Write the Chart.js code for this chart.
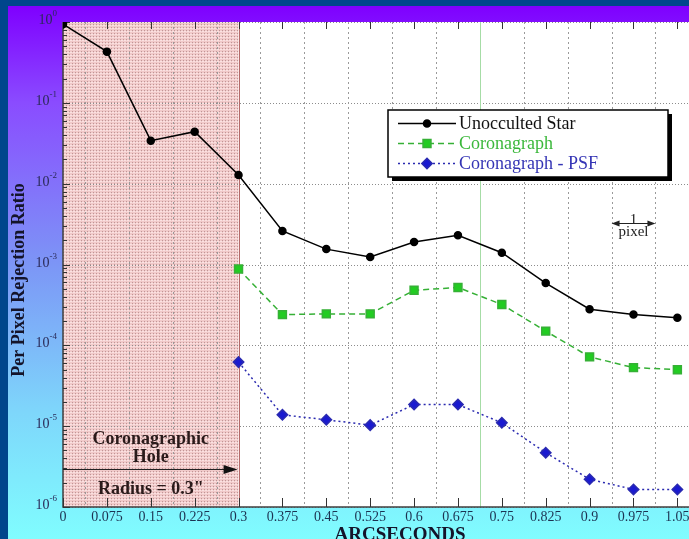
<!DOCTYPE html>
<html>
<head>
<meta charset="utf-8">
<script src="https://cdn.jsdelivr.net/npm/chart.js@4.4.1/dist/chart.umd.min.js"></script>
<style>
html, body { margin: 0; padding: 0; width: 689px; height: 539px; overflow: hidden; background: #00468c; }
#bg { position: absolute; left: 8px; top: 6px; width: 700px; height: 540px;
  background: linear-gradient(#7f00ff 0%, #8a4cff 18%, #7c96f6 48%, #7ed6fb 75%, #80ffff 100%); }
#wrap { position: absolute; left: 0; top: 0; width: 700px; height: 539px; }
</style>
</head>
<body>
<div id="bg"></div>
<div id="wrap"><canvas id="chart" width="700" height="539"></canvas></div>
<script>
// arcseconds from the star centre
var arcsec = [0, 0.075, 0.15, 0.225, 0.3, 0.375, 0.45, 0.525, 0.6, 0.675, 0.75, 0.825, 0.9, 0.975, 1.05];
// per pixel rejection ratio
var unocculted = [0.94, 0.43, 0.034, 0.044, 0.0128, 0.0026, 0.00155, 0.00124, 0.0019, 0.0023, 0.0014, 0.00059, 0.00028, 0.00024, 0.00022];
var coronagraph = [null, null, null, null, 8.8e-4, 2.4e-4, 2.45e-4, 2.45e-4, 4.8e-4, 5.2e-4, 3.2e-4, 1.5e-4, 7.2e-5, 5.3e-5, 5.0e-5];
var coronaPsf = [null, null, null, null, 6.2e-5, 1.38e-5, 1.2e-5, 1.03e-5, 1.85e-5, 1.85e-5, 1.1e-5, 4.7e-6, 2.2e-6, 1.65e-6, 1.65e-6];
var yTicks = [1, 1e-1, 1e-2, 1e-3, 1e-4, 1e-5, 1e-6];
var seriesNames = ["Unocculted Star", "Coronagraph", "Coronagraph - PSF"];
var holeRadius = 0.3;

var SERIF = "'Liberation Serif', 'DejaVu Serif', serif";

function points(vals) {
  var out = [];
  for (var i = 0; i < arcsec.length; i++) {
    if (vals[i] != null) out.push({ x: arcsec[i], y: vals[i] });
  }
  return out;
}

//dotted pink fill for the coronagraphic hole
function makeHatch() {
  var c = document.createElement("canvas");
  c.width = 3; c.height = 3;
  var g = c.getContext("2d");
  g.fillStyle = "#f1caca"; g.fillRect(0, 0, 3, 3);
  g.fillStyle = "#bf9696"; g.fillRect(0, 0, 1, 1);
  g.fillStyle = "#fae2e2"; g.fillRect(1, 1, 2, 1);
  return document.getElementById("chart").getContext("2d").createPattern(c, "repeat");
}
var hatch = makeHatch();

function arrowHead(ctx, x, y, dir, len, half) {
  ctx.beginPath();
  ctx.moveTo(x, y);
  ctx.lineTo(x - dir * len, y - half);
  ctx.lineTo(x - dir * len, y + half);
  ctx.closePath();
  ctx.fill();
}

var decor = {
  id: "decor",
  beforeDraw: function(chart) {
    var ctx = chart.ctx, a = chart.chartArea, xs = chart.scales.x;
    ctx.save();
    ctx.fillStyle = "#fff";
    ctx.fillRect(a.left, a.top, a.right - a.left, a.bottom - a.top);
    var hx = xs.getPixelForValue(holeRadius);
    ctx.fillStyle = hatch;
    ctx.fillRect(a.left, a.top, hx - a.left, a.bottom - a.top);
    ctx.restore();
  },
  beforeDatasetsDraw: function(chart) {
    var ctx = chart.ctx, a = chart.chartArea, xs = chart.scales.x, ys = chart.scales.y;
    ctx.save();
    ctx.lineWidth = 1;
    //horizontal grid at decades
    ctx.strokeStyle = "#8c8c8c";
    ctx.setLineDash([1, 2]);
    yTicks.forEach(function(v) {
      var py = Math.round(ys.getPixelForValue(v)) + 0.5;
      ctx.beginPath(); ctx.moveTo(a.left, py); ctx.lineTo(a.right, py); ctx.stroke();
    });
    //vertical grid half way between the ticks (pixel edges)
    ctx.setLineDash([2, 3]);
    for (var i = 0; i < arcsec.length; i++) {
      var gv = arcsec[i] + 0.0375;
      var px = Math.round(xs.getPixelForValue(gv)) + 0.5;
      ctx.strokeStyle = (i == 9) ? "#a6dca6" : "#9a9a9a";
      if (i == 9) ctx.setLineDash([]);
      ctx.beginPath(); ctx.moveTo(px, a.top); ctx.lineTo(px, a.bottom); ctx.stroke();
      if (i == 9) ctx.setLineDash([2, 3]);
    }
    ctx.setLineDash([]);
    //edge of the hole
    var hx = Math.round(xs.getPixelForValue(holeRadius)) + 0.5;
    ctx.strokeStyle = "#b46a6a";
    ctx.beginPath(); ctx.moveTo(hx, a.top); ctx.lineTo(hx, a.bottom); ctx.stroke();
    //axis lines
    ctx.strokeStyle = "#404040";
    ctx.lineWidth = 1.5;
    ctx.beginPath(); ctx.moveTo(a.left, a.top); ctx.lineTo(a.left, a.bottom); ctx.lineTo(a.right, a.bottom); ctx.stroke();
    //inward tick marks
    ctx.lineWidth = 1;
    ctx.strokeStyle = "#333";
    arcsec.forEach(function(v) {
      var px = Math.round(xs.getPixelForValue(v)) + 0.5;
      ctx.beginPath(); ctx.moveTo(px, a.bottom); ctx.lineTo(px, a.bottom - 9); ctx.stroke();
      ctx.beginPath(); ctx.moveTo(px, a.top); ctx.lineTo(px, a.top + 7); ctx.stroke();
    });
    for (var k = -6; k <= 0; k++) {
      var py = Math.round(ys.getPixelForValue(Math.pow(10, k))) + 0.5;
      ctx.beginPath(); ctx.moveTo(a.left, py); ctx.lineTo(a.left + 7, py); ctx.stroke();
      if (k == 0) continue;
      for (var m = 2; m <= 9; m++) {
        var my = Math.round(ys.getPixelForValue(m * Math.pow(10, k))) + 0.5;
        ctx.beginPath(); ctx.moveTo(a.left, my); ctx.lineTo(a.left + 4, my); ctx.stroke();
      }
    }
    ctx.restore();
  },
  afterDatasetsDraw: function(chart) {
    var ctx = chart.ctx, a = chart.chartArea, xs = chart.scales.x, ys = chart.scales.y;
    ctx.save();

    //y tick labels 10^n
    ctx.fillStyle = "#2a2a58";
    ctx.textBaseline = "alphabetic";
    yTicks.forEach(function(v) {
      var py = ys.getPixelForValue(v);
      var ex = String(Math.round(Math.log10(v)));
      ctx.font = "9px " + SERIF;
      var ew = ctx.measureText(ex).width;
      ctx.textAlign = "left";
      ctx.fillText(ex, 57 - ew, py - 6);
      ctx.font = "14px " + SERIF;
      ctx.textAlign = "right";
      ctx.fillText("10", 57 - ew, py + 2);
    });

    //axis titles
    ctx.fillStyle = "#14142a";
    ctx.font = "bold 18px " + SERIF;
    ctx.textAlign = "center";
    ctx.textBaseline = "middle";
    ctx.save();
    ctx.translate(19, 280);
    ctx.rotate(-Math.PI / 2);
    ctx.fillText("Per Pixel Rejection Ratio", 0, 0);
    ctx.restore();
    ctx.font = "bold 19px " + SERIF;
    ctx.textBaseline = "top";
    ctx.fillText("ARCSECONDS", 400, 526);

    //hole annotation
    var cx = xs.getPixelForValue(holeRadius / 2);
    ctx.fillStyle = "#2a1a1a";
    ctx.font = "bold 18px " + SERIF;
    ctx.textBaseline = "middle";
    ctx.fillText("Coronagraphic", cx, ys.getPixelForValue(Math.pow(10, -5.16)));
    ctx.fillText("Hole", cx, ys.getPixelForValue(Math.pow(10, -5.38)));
    ctx.fillText("Radius = 0.3\"", cx, ys.getPixelForValue(Math.pow(10, -5.78)));
    var ay = Math.round(ys.getPixelForValue(Math.pow(10, -5.53))) + 0.5;
    var ax1 = xs.getPixelForValue(holeRadius) - 1;
    ctx.strokeStyle = "#222";
    ctx.lineWidth = 1.2;
    ctx.beginPath(); ctx.moveTo(a.left, ay); ctx.lineTo(ax1 - 10, ay); ctx.stroke();
    ctx.fillStyle = "#111";
    arrowHead(ctx, ax1, ay, 1, 14, 4.5);

    //one pixel marker
    var p1 = xs.getPixelForValue(0.9375), p2 = xs.getPixelForValue(1.0125);
    var py1 = Math.round(ys.getPixelForValue(Math.pow(10, -2.49))) + 0.5;
    ctx.strokeStyle = "#222";
    ctx.lineWidth = 1;
    ctx.beginPath(); ctx.moveTo(p1 + 6, py1); ctx.lineTo(p2 - 6, py1); ctx.stroke();
    ctx.fillStyle = "#222";
    arrowHead(ctx, p1, py1, -1, 8, 3);
    arrowHead(ctx, p2, py1, 1, 8, 3);
    ctx.font = "15px " + SERIF;
    ctx.textBaseline = "alphabetic";
    ctx.fillText("1", (p1 + p2) / 2, py1);
    ctx.textBaseline = "top";
    ctx.fillText("pixel", (p1 + p2) / 2, py1 + 1);

    //legend box with shadow
    var lx = 388, ly = 110, lw = 280, lh = 67;
    ctx.fillStyle = "#000";
    ctx.fillRect(lx + 4, ly + 4, lw, lh);
    ctx.fillStyle = "#fff";
    ctx.fillRect(lx, ly, lw, lh);
    ctx.strokeStyle = "#000";
    ctx.lineWidth = 1.5;
    ctx.strokeRect(lx, ly, lw, lh);
    var textCols = ["#111", "#3cb83c", "#3535b5"];
    chart.data.datasets.forEach(function(ds, i) {
      var ry = ly + 13.5 + i * 20;
      ctx.save();
      ctx.strokeStyle = ds.borderColor;
      ctx.lineWidth = ds.borderWidth;
      ctx.setLineDash(ds.borderDash || []);
      ctx.beginPath(); ctx.moveTo(lx + 10, ry); ctx.lineTo(lx + 68, ry); ctx.stroke();
      ctx.setLineDash([]);
      ctx.fillStyle = ds.backgroundColor;
      ctx.strokeStyle = ds.borderColor;
      Chart.helpers.drawPoint(ctx, { pointStyle: ds.pointStyle, radius: ds.pointRadius, borderWidth: 1, rotation: 0 }, lx + 39, ry);
      ctx.restore();
      ctx.fillStyle = textCols[i];
      ctx.font = "18px " + SERIF;
      ctx.textAlign = "left";
      ctx.textBaseline = "middle";
      ctx.fillText(ds.label, lx + 71, ry + 1);
    });
    ctx.restore();
  }
};

var ctx = document.getElementById("chart");
var chart = new Chart(ctx, {
  type: "line",
  data: {
    datasets: [
      {
        label: seriesNames[0],
        data: points(unocculted),
        borderColor: "#000",
        backgroundColor: "#000",
        borderWidth: 1.5,
        pointStyle: "circle",
        pointRadius: 3.5
      },
      {
        label: seriesNames[1],
        data: points(coronagraph),
        borderColor: "#36b036",
        backgroundColor: "#22cc22",
        borderWidth: 1.5,
        borderDash: [6, 4],
        pointStyle: "rect",
        pointRadius: 5.6
      },
      {
        label: seriesNames[2],
        data: points(coronaPsf),
        borderColor: "#2a2ab0",
        backgroundColor: "#1a1ad0",
        borderWidth: 1.5,
        borderDash: [2, 3],
        pointStyle: "rectRot",
        pointRadius: 5.2
      }
    ]
  },
  options: {
    responsive: false,
    animation: false,
    devicePixelRatio: 1,
    layout: { padding: { left: 0, top: 22, right: 8, bottom: 0 } },
    plugins: { legend: { display: false }, tooltip: { enabled: false } },
    scales: {
      x: {
        type: "linear",
        min: 0,
        max: 1.075,
        afterBuildTicks: function(s) { s.ticks = arcsec.map(function(v) { return { value: v }; }); },
        afterFit: function(s) { s.height = 32; },
        grid: { display: false, drawTicks: false },
        border: { display: false },
        ticks: {
          autoSkip: false,
          maxRotation: 0,
          padding: 2,
          color: "#1c3352",
          font: { family: SERIF, size: 14 },
          callback: function(v) { return String(v); }
        }
      },
      y: {
        type: "logarithmic",
        min: 1e-6,
        max: 1,
        afterBuildTicks: function(s) { s.ticks = yTicks.map(function(v) { return { value: v }; }); },
        afterFit: function(s) { s.width = 63; },
        grid: { display: false },
        border: { display: false },
        ticks: { display: false }
      }
    }
  },
  plugins: [decor]
});
</script>
</body>
</html>
